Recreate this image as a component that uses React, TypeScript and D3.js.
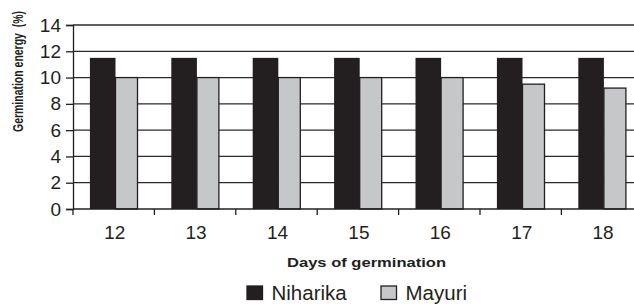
import * as d3 from 'd3';
import React, { useRef, useEffect } from 'react';

// data
const days = ['12', '13', '14', '15', '16', '17', '18'];
const niharika = [11.5, 11.5, 11.5, 11.5, 11.5, 11.5, 11.5];
const mayuri = [10, 10, 10, 10, 10, 9.5, 9.2];
const yTicks = [0, 2, 4, 6, 8, 10, 12, 14];

const width = 634;
const height = 304;

function Chart() {
    const ref = useRef<SVGSVGElement>(null);

    useEffect(() => {
        const svg = d3.select(ref.current);
        svg.selectAll('*').remove();

        const left = 73, top = 25, bottom = 209;
        const band = 81.4;
        const right = left + band * days.length;

        const x = d3.scaleBand().domain(days).range([left, right]).padding(0);
        const y = d3.scaleLinear().domain([0, 14]).range([bottom, top]);

        const font = 'Arial, "Liberation Sans", sans-serif';
        const dark = '#231f20';

        // gridlines
        svg.append('g')
            .selectAll('line')
            .data(yTicks.filter(d => d > 0))
            .enter().append('line')
            .attr('x1', left).attr('x2', right)
            .attr('y1', d => y(d)).attr('y2', d => y(d))
            .attr('stroke', '#2a2a2a')
            .attr('stroke-width', 1.3);

        const blackW = 25.6, grayW = 22;
        const offset = (x.bandwidth() - blackW - grayW) / 2;

        // Niharika bars
        svg.append('g')
            .selectAll('rect')
            .data(niharika)
            .enter().append('rect')
            .attr('x', (d, i) => (x(days[i]) as number) + offset)
            .attr('y', d => y(d))
            .attr('width', blackW)
            .attr('height', d => bottom - y(d))
            .attr('fill', dark);

        // Mayuri bars
        svg.append('g')
            .selectAll('rect')
            .data(mayuri)
            .enter().append('rect')
            .attr('x', (d, i) => (x(days[i]) as number) + offset + blackW)
            .attr('y', d => y(d))
            .attr('width', grayW)
            .attr('height', d => bottom - y(d))
            .attr('fill', '#c6c7c8')
            .attr('stroke', dark)
            .attr('stroke-width', 1.3);

        // y axis
        const yAxis = d3.axisLeft(y).tickValues(yTicks).tickSize(7).tickPadding(5);
        const gy = svg.append('g')
            .attr('transform', `translate(${left},0)`)
            .call(yAxis);
        gy.select('.domain').attr('stroke', dark).attr('stroke-width', 1.3);
        gy.selectAll('.tick line').attr('stroke', dark).attr('stroke-width', 1.3);
        gy.selectAll('.tick text')
            .attr('font-family', font)
            .attr('font-size', 19)
            .attr('fill', dark);

        // x axis: ticks sit on category boundaries
        const gx = svg.append('g')
            .attr('transform', `translate(0,${bottom})`);
        gx.append('line')
            .attr('x1', left).attr('x2', right)
            .attr('stroke', dark).attr('stroke-width', 1.3);
        gx.selectAll('line.tk')
            .data(days)
            .enter().append('line')
            .attr('class', 'tk')
            .attr('x1', d => x(d) as number).attr('x2', d => x(d) as number)
            .attr('y1', 0).attr('y2', 6)
            .attr('stroke', dark).attr('stroke-width', 1.3);
        gx.selectAll('text')
            .data(days)
            .enter().append('text')
            .attr('x', d => (x(d) as number) + x.bandwidth() / 2 + 1)
            .attr('y', 30)
            .attr('text-anchor', 'middle')
            .attr('font-family', font)
            .attr('font-size', 19)
            .attr('fill', dark)
            .text(d => d);

        // axis titles (the source looks stretched sideways)
        svg.append('text')
            .attr('x', 287).attr('y', 266.5)
            .attr('font-family', font)
            .attr('font-weight', 'bold')
            .attr('font-size', 13.5)
            .attr('textLength', 159)
            .attr('lengthAdjust', 'spacingAndGlyphs')
            .attr('fill', dark)
            .text('Days of germination');

        svg.append('text')
            .attr('transform', 'translate(23,132) scale(1.25,1) rotate(-90)')
            .attr('font-family', font)
            .attr('font-weight', 'bold')
            .attr('font-size', 11.5)
            .attr('textLength', 121)
            .attr('lengthAdjust', 'spacingAndGlyphs')
            .attr('fill', dark)
            .attr('xml:space', 'preserve')
            .text('Germination energy  (%)');

        // legend
        const legend = [
            { name: 'Niharika', fill: dark, x: 247 },
            { name: 'Mayuri', fill: '#c6c7c8', x: 381 },
        ];
        const lg = svg.append('g');
        lg.selectAll('rect')
            .data(legend)
            .enter().append('rect')
            .attr('x', d => d.x).attr('y', 286)
            .attr('width', 15.5).attr('height', 13.5)
            .attr('fill', d => d.fill)
            .attr('stroke', dark).attr('stroke-width', 1.3);
        lg.selectAll('text')
            .data(legend)
            .enter().append('text')
            .attr('x', d => d.x + 24.5).attr('y', 299.5)
            .attr('font-family', font)
            .attr('font-size', 20.5)
            .attr('fill', dark)
            .text(d => d.name);
    }, []);

    return (
        <svg ref={ref} width={width} height={height}
            style={{ position: 'absolute', left: 0, top: 0, background: '#fff' }} />
    );
}

export default function App() {
    return <Chart />;
}
